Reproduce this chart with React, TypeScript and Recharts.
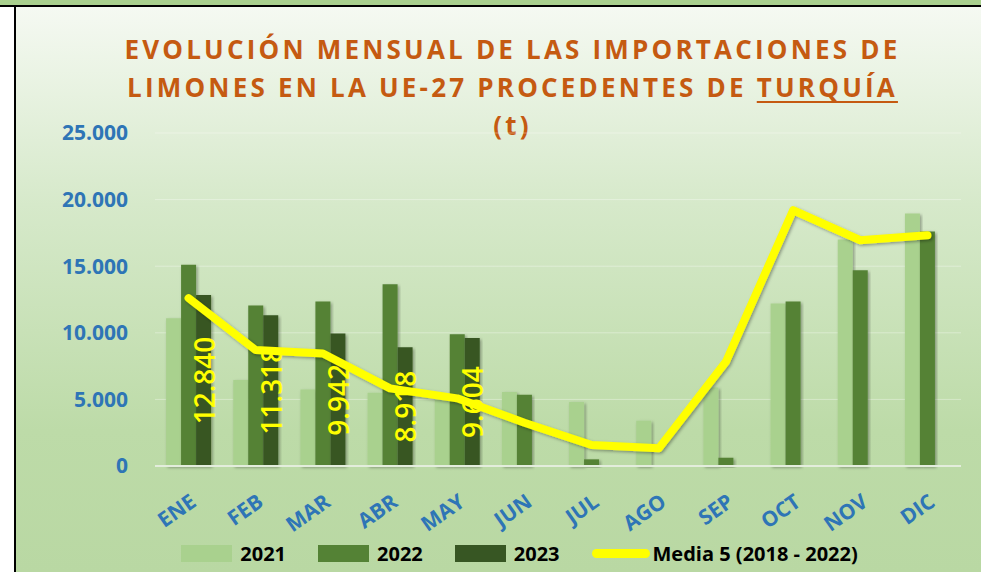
import React from 'react';
import { ComposedChart, Bar, Line, XAxis, YAxis, CartesianGrid, Legend, LabelList } from 'recharts';

const months = ['ENE', 'FEB', 'MAR', 'ABR', 'MAY', 'JUN', 'JUL', 'AGO', 'SEP', 'OCT', 'NOV', 'DIC'];
const v2021 = [11100, 6450, 5750, 5500, 5000, 5550, 4800, 3400, 5900, 12200, 17000, 18950];
const v2022 = [15100, 12050, 12350, 13650, 9900, 5350, 500, null, 620, 12350, 14700, 17600];
const v2023 = [12840, 11318, 9942, 8918, 9604, null, null, null, null, null, null, null];
const media5 = [12600, 8700, 8450, 5830, 5080, 3250, 1575, 1325, 7825, 19200, 16950, 17330];
const yTicks = [0, 5000, 10000, 15000, 20000, 25000];

const data = months.map((m, i) => ({
  month: m,
  y2021: v2021[i],
  y2022: v2022[i],
  y2023: v2023[i],
  media: media5[i],
}));

const fmt = (v: number) => v.toLocaleString('de-DE');

const MonthTick = (props: any) => {
  const { x, y, payload } = props;
  return (
    <text
      x={x + 9}
      y={y + 31}
      textAnchor="end"
      transform={`rotate(-35, ${x + 9}, ${y + 31})`}
      fill="#2e75b6"
      fontSize={21}
      fontWeight={700}
      fontFamily="'Open Sans', sans-serif"
    >
      {payload.value}
    </text>
  );
};

const BarLabel = (props: any) => {
  const { x, y, width, height, value } = props;
  if (value == null) return null;
  const cx = x + width / 2;
  const cy = y + height / 2;
  return (
    <text
      x={cx}
      y={cy}
      textAnchor="middle"
      dominantBaseline="central"
      transform={`rotate(-90, ${cx}, ${cy})`}
      fill="#ffff00"
      fontSize={28}
      fontWeight={600}
      fontFamily="'Open Sans', sans-serif"
    >
      {fmt(value)}
    </text>
  );
};

const LegendBox = (props: any) => {
  const { payload } = props;
  return (
    <div style={{ display: 'flex', justifyContent: 'center', alignItems: 'center', paddingLeft: 90 }}>
      {payload.map((item: any) => (
        <div key={item.value} style={{ display: 'flex', alignItems: 'center', marginRight: 32 }}>
          {item.type === 'line' ? (
            <span style={{ width: 58, height: 9, borderRadius: 5, background: item.color, display: 'inline-block', marginRight: 3 }} />
          ) : (
            <span style={{ width: 51, height: 17, background: item.color, display: 'inline-block', marginRight: 8 }} />
          )}
          <span style={{ fontFamily: "'Open Sans', sans-serif", fontWeight: 700, fontSize: 20, color: '#000' }}>{item.value}</span>
        </div>
      ))}
    </div>
  );
};

export default function App() {
  return (
    <div
      style={{
        position: 'fixed',
        left: 0,
        top: 0,
        width: 981,
        height: 572,
        background: '#fff',
        overflow: 'hidden',
      }}
    >
      <div style={{ position: 'absolute', left: 0, top: 0, width: 981, height: 5, background: '#a9d08e' }} />
      <div style={{ position: 'absolute', left: 0, top: 5, width: 981, height: 2, background: '#000' }} />
      <div style={{ position: 'absolute', left: 14, top: 5, width: 2, height: 567, background: '#000' }} />
      <div
        style={{
          position: 'absolute',
          left: 16,
          top: 7,
          width: 965,
          height: 565,
          background: 'linear-gradient(to bottom, #f5f9f2 0%, #d6e9ca 35%, #bddba8 75%, #b9d8a3 100%)',
        }}
      />
      <div
        style={{
          position: 'absolute',
          left: 0,
          top: 30,
          width: 1025,
          textAlign: 'center',
          color: '#c55a11',
          fontFamily: "'Open Sans', sans-serif",
          fontWeight: 700,
          fontSize: 26,
          letterSpacing: 3.2,
          lineHeight: '38px',
        }}
      >
        EVOLUCIÓN MENSUAL DE LAS IMPORTACIONES DE
        <br />
        LIMONES EN LA UE-27 PROCEDENTES DE <span style={{ textDecoration: 'underline', textUnderlineOffset: 4 }}>TURQUÍA</span>
        <br />
        (t)
      </div>
      <div style={{ position: 'absolute', left: 0, top: 0 }}>
        <ComposedChart
          width={981}
          height={572}
          data={data}
          margin={{ top: 133, right: 20, bottom: 39, left: 0 }}
          barCategoryGap="16.5%"
          barGap={0}
        >
          <defs>
            <filter id="softShadow" x="-20%" y="-20%" width="140%" height="140%">
              <feDropShadow dx="1.5" dy="1.5" stdDeviation="1.5" floodColor="#000" floodOpacity="0.35" />
            </filter>
          </defs>
          <CartesianGrid vertical={false} stroke="rgba(255,255,255,0.35)" />
          <XAxis
            dataKey="month"
            height={40}
            tickLine={false}
            axisLine={{ stroke: '#e3eddc', strokeWidth: 2 }}
            tick={<MonthTick />}
            interval={0}
          />
          <YAxis
            width={155}
            domain={[0, 25000]}
            ticks={yTicks}
            tickFormatter={fmt}
            axisLine={false}
            tickLine={false}
            tickSize={0}
            tickMargin={27}
            tick={{ fill: '#2e75b6', fontSize: 21, fontWeight: 700, fontFamily: "'Open Sans', sans-serif" }}
          />
          <Legend
            content={<LegendBox />}
            wrapperStyle={{ position: 'absolute', top: 540, bottom: 'auto', left: 0, width: 981 }}
          />
          <Bar dataKey="y2021" name="2021" fill="#a9d18e" filter="url(#softShadow)" isAnimationActive={false} />
          <Bar dataKey="y2022" name="2022" fill="#548235" filter="url(#softShadow)" isAnimationActive={false} />
          <Bar dataKey="y2023" name="2023" fill="#375623" filter="url(#softShadow)" isAnimationActive={false}>
            <LabelList dataKey="y2023" content={<BarLabel />} />
          </Bar>
          <Line
            dataKey="media"
            name="Media 5 (2018 - 2022)"
            type="linear"
            stroke="#ffff00"
            strokeWidth={8}
            strokeLinecap="round"
            strokeLinejoin="round"
            filter="url(#softShadow)"
            dot={false}
            legendType="line"
            isAnimationActive={false}
          />
        </ComposedChart>
      </div>
    </div>
  );
}
